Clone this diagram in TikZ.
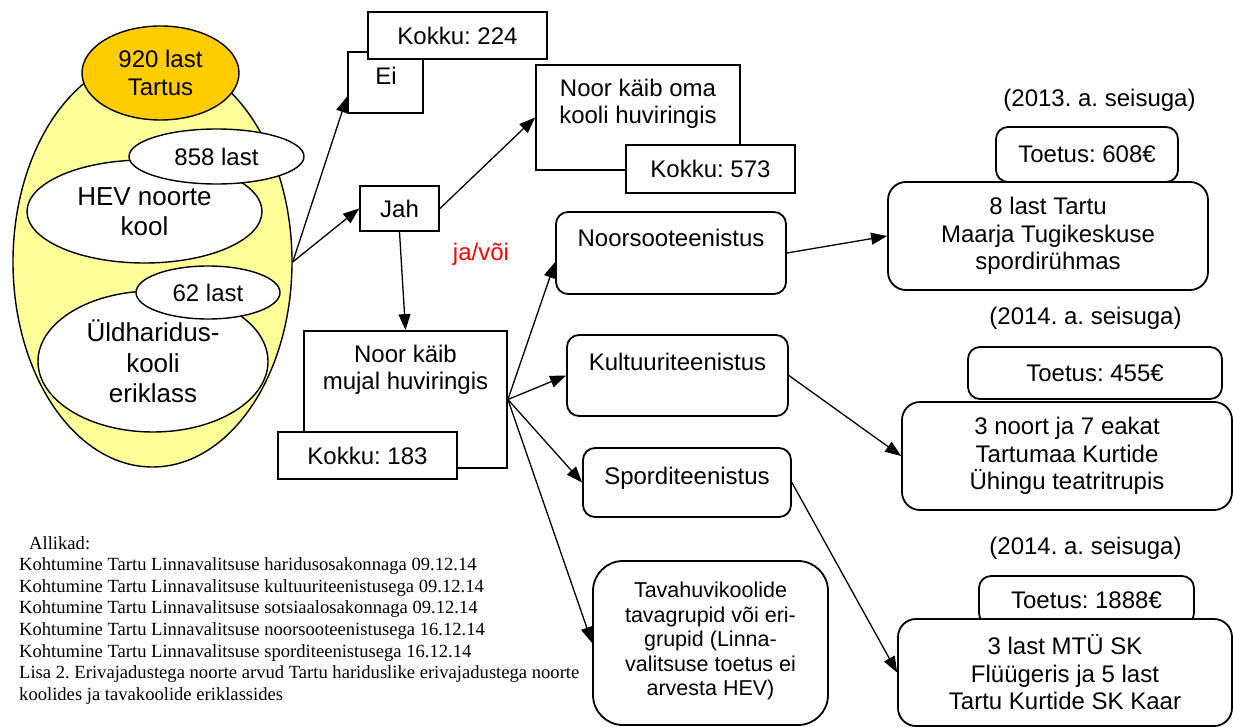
\documentclass[tikz,border=0pt]{standalone}
\usepackage{fontspec}
\setmainfont{Liberation Sans}
\newfontfamily\srcfont{Liberation Serif}
\usepackage{tikz}
\usetikzlibrary{shapes.geometric,arrows.meta,calc}
\definecolor{kollane}{RGB}{255,255,153}
\definecolor{oranz}{RGB}{255,204,0}
\frenchspacing

\begin{document}
\begin{tikzpicture}[x=1pt,y=-1pt,
    box/.style={draw,line width=1.8pt,fill=white,inner sep=0pt},
    rbox/.style={box,rounded corners=12pt},
    ell/.style={ellipse,draw,line width=1.4pt,fill=white,inner sep=0pt},
    txt/.style={font=\fontsize{24}{27.5}\selectfont,align=center,inner sep=0pt},
    big/.style={font=\fontsize{26}{30.5}\selectfont,align=center,inner sep=0pt},
    arr/.style={-{Triangle[length=16pt,width=12pt]},line width=1.3pt}]
  \useasboundingbox (0,0) rectangle (1233,727);

  % koolid
  \node[ell,fill=kollane,minimum width=279pt,minimum height=410pt] (koik) at (152.5,262) {};
  \node[ell,txt,fill=oranz,minimum width=157pt,minimum height=94pt] (tartu) at (160.5,73) {920 last\\Tartus};
  \node[ell,big,minimum width=235pt,minimum height=103pt] (hev) at (144.5,211.5) {HEV noorte\\kool};
  \node[ell,txt,minimum width=175pt,minimum height=55pt] (hevArv) at (216.5,156.5) {858 last};
  \node[ell,big,minimum width=230pt,minimum height=141pt] (yld) at (153,361.5) {Üldharidus-\\kooli\\eriklass};
  \node[ell,txt,minimum width=144pt,minimum height=53pt] (yldArv) at (208,292.5) {62 last};

  % ei / jah
  \node[box,minimum width=75pt,minimum height=61pt] (ei) at (385.5,82.5) {};
  \node[txt] (eiT) at (386,76) {Ei};
  \node[box,txt,minimum width=179pt,minimum height=47pt] (kokkuEi) at (457.5,35.5) {Kokku: 224};
  \node[box,txt,minimum width=79pt,minimum height=45pt] (jah) at (399.5,208.5) {Jah};

  \node[box,minimum width=204pt,minimum height=105pt] (oma) at (638,117.5) {};
  \node[txt] (omaT) at (638,104) {Noor käib oma\\kooli huviringis};
  \node[box,txt,minimum width=169pt,minimum height=48pt] (kokkuOma) at (710.5,169) {Kokku: 573};

  \node[box,minimum width=203pt,minimum height=137pt] (mujal) at (405.5,399.5) {};
  \node[txt] (mujalT) at (405.5,370) {Noor käib\\mujal huviringis};
  \node[box,txt,minimum width=179pt,minimum height=47pt] (kokkuMujal) at (367.5,455.5) {Kokku: 183};

  \node[txt,text=red] (jaVoi) at (481,254) {ja/või};

  % teenistused
  \node[rbox,minimum width=230pt,minimum height=82pt] (noorsoo) at (671,253) {};
  \node[txt,anchor=base] (noorsooT) at (671,247) {Noorsooteenistus};
  \node[rbox,minimum width=221pt,minimum height=81pt] (kultuur) at (677.5,375.5) {};
  \node[txt,anchor=base] (kultuurT) at (677.5,370) {Kultuuriteenistus};
  \node[rbox,minimum width=208pt,minimum height=69pt] (sport) at (687,482.5) {};
  \node[txt,anchor=base] (sportT) at (687,484) {Sporditeenistus};
  \node[box,rounded corners=30pt,minimum width=235pt,minimum height=164pt] (tava) at (710.5,643) {};
  \node[txt,font=\fontsize{21.5}{24.5}\selectfont] (tavaT) at (710.5,641) {Tavahuvikoolide\\tavagrupid või eri-\\grupid (Linna-\\valitsuse toetus ei\\arvesta HEV)};

  % toetused
  \node[txt] (aastaA) at (1099.5,100) {(2013. a. seisuga)};
  \node[rbox,txt,minimum width=182pt,minimum height=55pt] (toetusA) at (1087,154.5) {Toetus: 608€};
  \node[rbox,txt,rounded corners=18pt,minimum width=320pt,minimum height=108pt] (lastA) at (1048,236) {8 last Tartu\\Maarja Tugikeskuse\\spordirühmas};
  \node[txt] (aastaB) at (1085.5,318) {(2014. a. seisuga)};
  \node[rbox,txt,minimum width=254pt,minimum height=52pt] (toetusB) at (1095,373) {Toetus: 455€};
  \node[rbox,txt,rounded corners=18pt,minimum width=330pt,minimum height=108pt] (lastB) at (1067,456) {3 noort ja 7 eakat\\Tartumaa Kurtide\\Ühingu teatritrupis};
  \node[txt] (aastaC) at (1085.5,548) {(2014. a. seisuga)};
  \node[rbox,txt,minimum width=215pt,minimum height=49pt] (toetusC) at (1086.5,600.5) {Toetus: 1888€};
  \node[rbox,txt,rounded corners=18pt,minimum width=334pt,minimum height=107pt] (lastC) at (1065,672.5) {3 last MTÜ SK\\Flüügeris ja 5 last\\Tartu Kurtide SK Kaar};

  % allikad
  \node[anchor=north west,align=left,inner sep=0pt,font=\srcfont\fontsize{18.6}{21.6}\selectfont] (allikad) at (19,536)
    {\hspace*{10pt}Allikad:\\
     Kohtumine Tartu Linnavalitsuse haridusosakonnaga 09.12.14\\
     Kohtumine Tartu Linnavalitsuse kultuuriteenistusega 09.12.14\\
     Kohtumine Tartu Linnavalitsuse sotsiaalosakonnaga 09.12.14\\
     Kohtumine Tartu Linnavalitsuse noorsooteenistusega 16.12.14\\
     Kohtumine Tartu Linnavalitsuse sporditeenistusega 16.12.14\\
     Lisa 2. Erivajadustega noorte arvud Tartu hariduslike erivajadustega noorte\\
     koolides ja tavakoolide eriklassides};

  % nooled
  \draw[arr] (koik.east) -- ($(ei.west)+(0,14)$);
  \draw[arr] (koik.east) -- (jah.west);
  \draw[arr] (jah.east) -- (oma.west);
  \draw[arr] (jah.south) -- (mujal.north);
  \draw[arr] (mujal.east) -- ($(noorsoo.west)+(0,9)$);
  \draw[arr] (mujal.east) -- (kultuur.west);
  \draw[arr] (mujal.east) -- (sport.west);
  \draw[arr] (mujal.east) -- (tava.west);
  \draw[arr] (noorsoo.east) -- (lastA.west);
  \draw[arr] (kultuur.east) -- (lastB.west);
  \draw[arr] (sport.east) -- (lastC.west);
\end{tikzpicture}
\end{document}
